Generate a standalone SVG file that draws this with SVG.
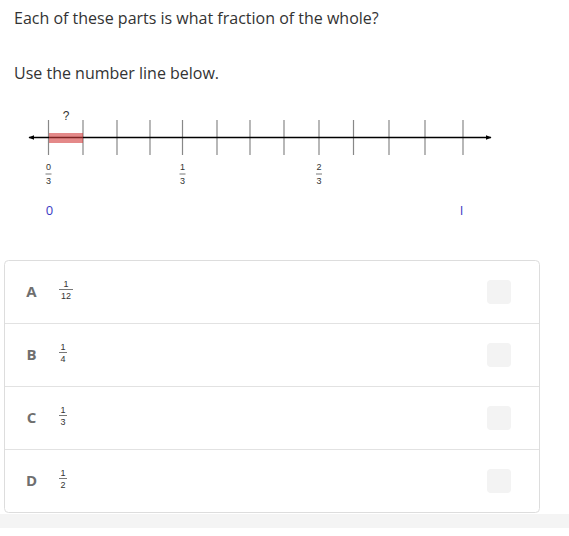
<svg xmlns="http://www.w3.org/2000/svg" width="569" height="536" viewBox="0 0 569 536">
<style>
.t{font-family:"Open Sans","Liberation Sans",sans-serif;fill:#333;font-size:16px}
.tick{stroke:#888;stroke-width:1.2}
.fr{font-family:"Liberation Sans",Arial,sans-serif;font-size:9px;fill:#333;text-anchor:middle}
.bar{stroke:#555;stroke-width:0.8}
.blue{font-family:"Open Sans","Liberation Sans",sans-serif;font-size:13px;fill:#3b3bc4;text-anchor:middle}
.let{font-family:"Open Sans","Liberation Sans",sans-serif;font-size:15px;font-weight:bold;fill:#6f6f6f;text-anchor:middle}
.sep{stroke:#e2e2e2;stroke-width:1.2}
.chk{fill:#f3f3f3}
</style>
<defs>
<marker id="ah" viewBox="0 0 10 10" refX="9" refY="5" markerWidth="6" markerHeight="6" orient="auto-start-reverse" markerUnits="userSpaceOnUse">
<path d="M0,1 L10,5 L0,9 Z" fill="#000"/>
</marker>
</defs>
<rect width="569" height="536" fill="#fff"/>
<text class="t" x="14" y="24">Each of these parts is what fraction of the whole?</text>
<text class="t" x="14" y="79">Use the number line below.</text>

<g id="numberline">
<g id="ticks">
<line class="tick" x1="48.5" y1="120" x2="48.5" y2="155"/>
<line class="tick" x1="83" y1="120" x2="83" y2="155"/>
<line class="tick" x1="117" y1="120" x2="117" y2="155"/>
<line class="tick" x1="150" y1="120" x2="150" y2="155"/>
<line class="tick" x1="182.5" y1="120" x2="182.5" y2="155"/>
<line class="tick" x1="217" y1="120" x2="217" y2="155"/>
<line class="tick" x1="250" y1="120" x2="250" y2="155"/>
<line class="tick" x1="284" y1="120" x2="284" y2="155"/>
<line class="tick" x1="319" y1="120" x2="319" y2="155"/>
<line class="tick" x1="353.5" y1="120" x2="353.5" y2="155"/>
<line class="tick" x1="389" y1="120" x2="389" y2="155"/>
<line class="tick" x1="425" y1="120" x2="425" y2="155"/>
<line class="tick" x1="463" y1="120" x2="463" y2="155"/>
</g>
<g id="connectors">
<line x1="29" y1="137.5" x2="491" y2="137.5" stroke="#000" stroke-width="1.6" marker-start="url(#ah)" marker-end="url(#ah)"/>
</g>
<rect x="49" y="133" width="34" height="10" fill="#d23a3a" opacity="0.6"/>
<text class="fr" x="66" y="120" font-size="12" style="font-size:12px">?</text>
<g id="lbl0"><text class="fr" x="48.5" y="170">0</text><line class="bar" x1="45.5" y1="174" x2="51.5" y2="174"/><text class="fr" x="48.5" y="184">3</text></g>
<g id="lbl1"><text class="fr" x="182.5" y="170">1</text><line class="bar" x1="179.5" y1="174" x2="185.5" y2="174"/><text class="fr" x="182.5" y="184">3</text></g>
<g id="lbl2"><text class="fr" x="319" y="170">2</text><line class="bar" x1="316" y1="174" x2="322" y2="174"/><text class="fr" x="319" y="184">3</text></g>
<text class="blue" x="49.5" y="215">0</text>
<text class="blue" x="461.5" y="215">I</text>
</g>

<g id="choices">
<rect x="0" y="514" width="569" height="14" fill="#f4f4f4"/>
<rect x="4.5" y="260.5" width="535" height="252" rx="4" fill="#fff" stroke="#ddd" stroke-width="1"/>
<line class="sep" x1="5" y1="323.5" x2="539" y2="323.5"/>
<line class="sep" x1="5" y1="386.5" x2="539" y2="386.5"/>
<line class="sep" x1="5" y1="449.5" x2="539" y2="449.5"/>
<g id="optA">
<text class="let" x="31.5" y="297">A</text>
<text class="fr" x="66" y="287">1</text><line class="bar" x1="59" y1="289.5" x2="73" y2="289.5"/><text class="fr" x="66" y="299">12</text>
<rect class="chk" x="487" y="280" width="24" height="24" rx="4"/>
</g>
<g id="optB">
<text class="let" x="31.5" y="360">B</text>
<text class="fr" x="63" y="350">1</text><line class="bar" x1="59" y1="352.5" x2="67" y2="352.5"/><text class="fr" x="63" y="362">4</text>
<rect class="chk" x="487" y="343" width="24" height="24" rx="4"/>
</g>
<g id="optC">
<text class="let" x="31.5" y="423">C</text>
<text class="fr" x="63" y="413">1</text><line class="bar" x1="59" y1="415.5" x2="67" y2="415.5"/><text class="fr" x="63" y="425">3</text>
<rect class="chk" x="487" y="406" width="24" height="24" rx="4"/>
</g>
<g id="optD">
<text class="let" x="31.5" y="486">D</text>
<text class="fr" x="63" y="476">1</text><line class="bar" x1="59" y1="478.5" x2="67" y2="478.5"/><text class="fr" x="63" y="488">2</text>
<rect class="chk" x="487" y="469" width="24" height="24" rx="4"/>
</g>
</g>
</svg>
